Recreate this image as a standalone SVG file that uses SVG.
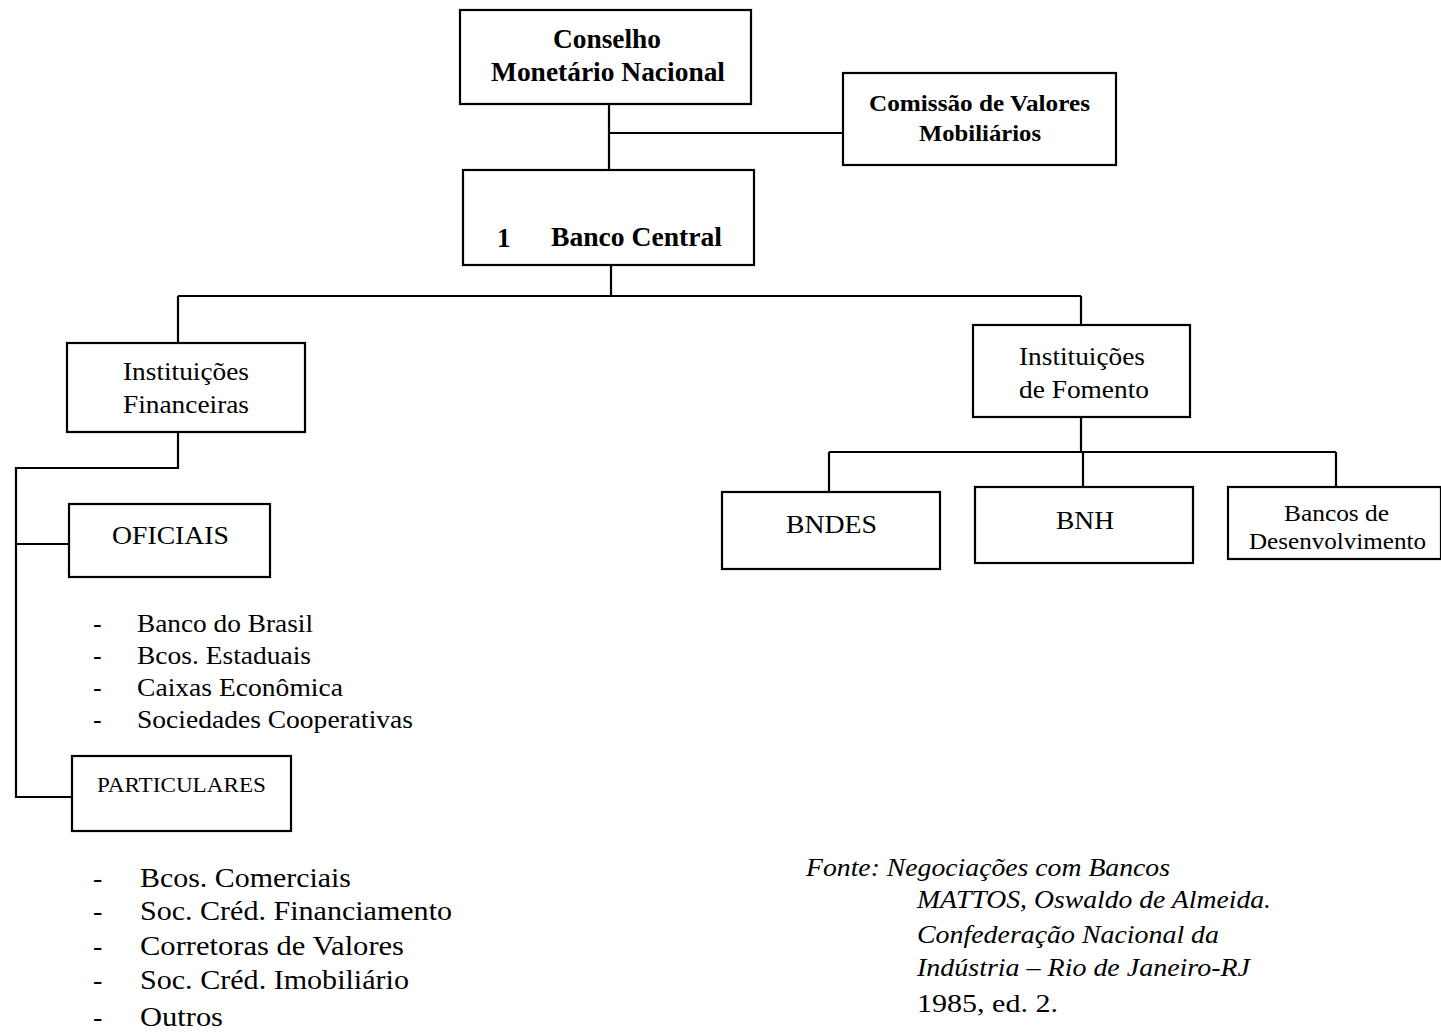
<svg xmlns="http://www.w3.org/2000/svg" width="1441" height="1032" viewBox="0 0 1441 1032">
<style>
.box{fill:#fff;stroke:#000;stroke-width:2.2}
.ln{fill:none;stroke:#000;stroke-width:2.2}
text{font-family:"Liberation Serif","Times New Roman",serif;fill:#000}
.b{font-weight:bold}
.c{text-anchor:middle}
.i{font-style:italic}
</style>
<rect width="1441" height="1032" fill="#fff"/>
<g id="connectors">
<path class="ln" d="M609 104V172M609 133H843"/>
<path class="ln" d="M611 265V296M178 296H1081M178 296V343M1081 296V325"/>
<path class="ln" d="M1081 417V452M829 452H1336M829 452V492M1083 452V487M1336 452V487"/>
<path class="ln" d="M178 432V468H16V797H72M16 544H69"/>
</g>
<g id="n-conselho"><rect class="box" x="460" y="10" width="291" height="94"/>
<text class="b" x="553" y="48" font-size="28" textLength="108" lengthAdjust="spacingAndGlyphs">Conselho</text>
<text class="b" x="491" y="81" font-size="28" textLength="234" lengthAdjust="spacingAndGlyphs">Monetário Nacional</text></g>
<g id="n-comissao"><rect class="box" x="843" y="73" width="273" height="92"/>
<text class="b" x="869" y="111" font-size="23" textLength="221" lengthAdjust="spacingAndGlyphs">Comissão de Valores</text>
<text class="b" x="919" y="141" font-size="23" textLength="122" lengthAdjust="spacingAndGlyphs">Mobiliários</text></g>
<g id="n-banco-central"><rect class="box" x="463" y="170" width="291" height="95"/>
<text class="b" x="497" y="247" font-size="27">1</text>
<text class="b" x="551" y="246" font-size="28" textLength="171" lengthAdjust="spacingAndGlyphs">Banco Central</text></g>
<g id="n-inst-fin"><rect class="box" x="67" y="343" width="238" height="89"/>
<text x="123" y="380" font-size="26" textLength="126" lengthAdjust="spacingAndGlyphs">Instituições</text>
<text x="123" y="413" font-size="26" textLength="126" lengthAdjust="spacingAndGlyphs">Financeiras</text></g>
<g id="n-inst-fom"><rect class="box" x="973" y="325" width="217" height="92"/>
<text x="1019" y="365" font-size="26" textLength="126" lengthAdjust="spacingAndGlyphs">Instituições</text>
<text x="1019" y="398" font-size="26" textLength="130" lengthAdjust="spacingAndGlyphs">de Fomento</text></g>
<g id="n-bndes"><rect class="box" x="722" y="492" width="218" height="77"/>
<text x="786" y="533" font-size="26" textLength="91" lengthAdjust="spacingAndGlyphs">BNDES</text></g>
<g id="n-bnh"><rect class="box" x="975" y="487" width="218" height="76"/>
<text x="1056" y="529" font-size="26" textLength="58" lengthAdjust="spacingAndGlyphs">BNH</text></g>
<g id="n-bancos-des"><rect class="box" x="1228" y="487" width="213" height="72"/>
<text x="1284" y="521" font-size="23" textLength="105" lengthAdjust="spacingAndGlyphs">Bancos de</text>
<text x="1249" y="549" font-size="23" textLength="177" lengthAdjust="spacingAndGlyphs">Desenvolvimento</text></g>
<g id="n-oficiais"><rect class="box" x="69" y="504" width="201" height="73"/>
<text x="112" y="544" font-size="26" textLength="117" lengthAdjust="spacingAndGlyphs">OFICIAIS</text></g>
<g id="n-particulares"><rect class="box" x="72" y="756" width="219" height="75"/>
<text x="97" y="792" font-size="20" textLength="169" lengthAdjust="spacingAndGlyphs">PARTICULARES</text></g>
<g id="list-oficiais" font-size="26">
<text x="93" y="632">-</text><text x="137" y="632" textLength="176" lengthAdjust="spacingAndGlyphs">Banco do Brasil</text>
<text x="93" y="664">-</text><text x="137" y="664" textLength="174" lengthAdjust="spacingAndGlyphs">Bcos. Estaduais</text>
<text x="93" y="696">-</text><text x="137" y="696" textLength="206" lengthAdjust="spacingAndGlyphs">Caixas Econômica</text>
<text x="93" y="728">-</text><text x="137" y="728" textLength="276" lengthAdjust="spacingAndGlyphs">Sociedades Cooperativas</text>
</g>
<g id="list-particulares" font-size="28">
<text x="93" y="887">-</text><text x="140" y="887" textLength="211" lengthAdjust="spacingAndGlyphs">Bcos. Comerciais</text>
<text x="93" y="920">-</text><text x="140" y="920" textLength="312" lengthAdjust="spacingAndGlyphs">Soc. Créd. Financiamento</text>
<text x="93" y="955">-</text><text x="140" y="955" textLength="264" lengthAdjust="spacingAndGlyphs">Corretoras de Valores</text>
<text x="93" y="989">-</text><text x="140" y="989" textLength="269" lengthAdjust="spacingAndGlyphs">Soc. Créd. Imobiliário</text>
<text x="93" y="1026">-</text><text x="140" y="1026" textLength="83" lengthAdjust="spacingAndGlyphs">Outros</text>
</g>
<g id="fonte" font-size="26">
<text class="i" x="806" y="876" textLength="364" lengthAdjust="spacingAndGlyphs">Fonte: Negociações com Bancos</text>
<text class="i" x="917" y="908" textLength="354" lengthAdjust="spacingAndGlyphs">MATTOS, Oswaldo de Almeida.</text>
<text class="i" x="917" y="943" textLength="302" lengthAdjust="spacingAndGlyphs">Confederação Nacional da</text>
<text class="i" x="917" y="976" textLength="333" lengthAdjust="spacingAndGlyphs">Indústria – Rio de Janeiro-RJ</text>
<text x="917" y="1012" textLength="141" lengthAdjust="spacingAndGlyphs">1985, ed. 2.</text>
</g>
</svg>
